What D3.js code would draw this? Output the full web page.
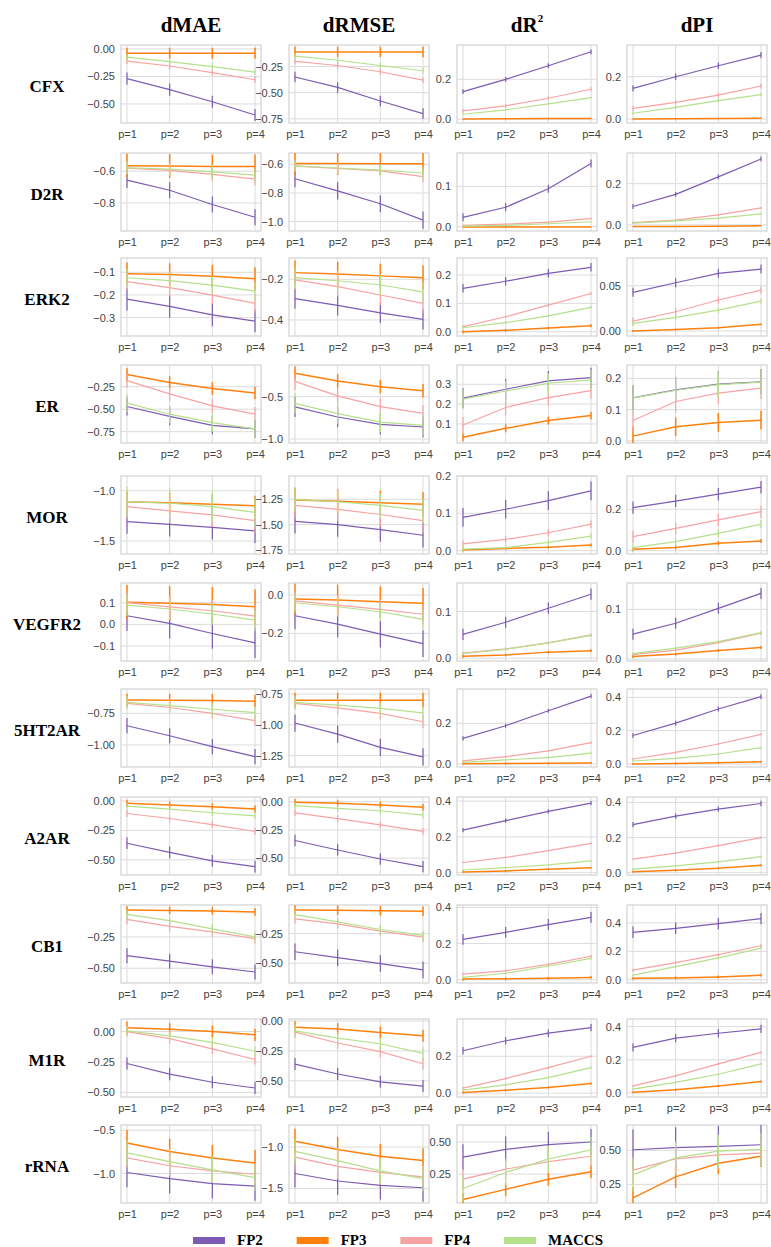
<!DOCTYPE html>
<html>
<head>
<meta charset="utf-8">
<script src="https://cdn.jsdelivr.net/npm/d3@7"></script>
<style>
  body { margin: 0; background: #fff; }
</style>
</head>
<body>
<div id="chart"></div>
<script>
const targets = ["CFX", "D2R", "ERK2", "ER", "MOR", "VEGFR2", "5HT2AR", "A2AR", "CB1", "M1R", "rRNA"];
const metrics = ["dMAE", "dRMSE", "dR2", "dPI"];
const models = ["FP2", "FP3", "FP4", "MACCS"];
const pLabels = ["p=1", "p=2", "p=3", "p=4"];
const colors = ["#7d5bb3", "#ff800e", "#f8a3a3", "#b5e08c"];

// values per target: [FP2, FP3, FP4, MACCS]
const dMAE = [
  [[-0.27, -0.37, -0.48, -0.60], [-0.04, -0.04, -0.04, -0.04], [-0.11, -0.155, -0.215, -0.28], [-0.075, -0.115, -0.16, -0.21]],
  [[-0.656, -0.72, -0.81, -0.89], [-0.565, -0.567, -0.57, -0.57], [-0.58, -0.594, -0.62, -0.65], [-0.578, -0.587, -0.604, -0.625]],
  [[-0.218, -0.25, -0.288, -0.315], [-0.107, -0.11, -0.118, -0.128], [-0.141, -0.168, -0.201, -0.237], [-0.124, -0.137, -0.157, -0.183]],
  [[-0.47, -0.58, -0.68, -0.72], [-0.115, -0.204, -0.27, -0.32], [-0.183, -0.33, -0.463, -0.556], [-0.433, -0.556, -0.65, -0.72]],
  [[-1.308, -1.334, -1.364, -1.40], [-1.109, -1.119, -1.135, -1.149], [-1.159, -1.20, -1.24, -1.298], [-1.109, -1.125, -1.159, -1.215]],
  [[0.04, 0.005, -0.042, -0.085], [0.102, 0.097, 0.092, 0.081], [0.10, 0.081, 0.063, 0.038], [0.089, 0.071, 0.048, 0.02]],
  [[-0.848, -0.927, -1.013, -1.092], [-0.645, -0.646, -0.648, -0.655], [-0.672, -0.704, -0.75, -0.808], [-0.664, -0.69, -0.718, -0.745]],
  [[-0.359, -0.437, -0.509, -0.558], [-0.02, -0.035, -0.049, -0.069], [-0.106, -0.149, -0.201, -0.259], [-0.043, -0.069, -0.10, -0.126]],
  [[-0.40, -0.444, -0.489, -0.53], [-0.035, -0.038, -0.042, -0.05], [-0.11, -0.166, -0.21, -0.263], [-0.07, -0.12, -0.185, -0.25]],
  [[-0.263, -0.35, -0.417, -0.464], [0.032, 0.019, 0.0, -0.027], [0.0, -0.059, -0.143, -0.23], [0.006, -0.035, -0.089, -0.162]],
  [[-0.988, -1.059, -1.117, -1.145], [-0.648, -0.746, -0.82, -0.879], [-0.82, -0.91, -0.969, -1.008], [-0.762, -0.863, -0.957, -1.047]]
];

const dRMSE = [
  [[-0.35, -0.45, -0.58, -0.70], [-0.11, -0.11, -0.11, -0.11], [-0.20, -0.24, -0.30, -0.38], [-0.15, -0.19, -0.24, -0.29]],
  [[-0.70, -0.785, -0.875, -0.99], [-0.593, -0.594, -0.595, -0.595], [-0.612, -0.628, -0.645, -0.685], [-0.61, -0.625, -0.64, -0.66]],
  [[-0.295, -0.328, -0.365, -0.397], [-0.167, -0.174, -0.183, -0.192], [-0.203, -0.236, -0.277, -0.318], [-0.192, -0.207, -0.228, -0.262]],
  [[-0.62, -0.74, -0.826, -0.858], [-0.224, -0.315, -0.382, -0.43], [-0.32, -0.49, -0.618, -0.697], [-0.58, -0.70, -0.80, -0.84]],
  [[-1.467, -1.50, -1.55, -1.605], [-1.257, -1.27, -1.283, -1.30], [-1.31, -1.35, -1.40, -1.46], [-1.25, -1.274, -1.31, -1.36]],
  [[-0.108, -0.152, -0.204, -0.253], [-0.021, -0.026, -0.035, -0.043], [-0.03, -0.052, -0.075, -0.10], [-0.04, -0.061, -0.087, -0.127]],
  [[-0.985, -1.075, -1.183, -1.26], [-0.80, -0.80, -0.80, -0.80], [-0.826, -0.862, -0.907, -0.975], [-0.818, -0.84, -0.867, -0.902]],
  [[-0.344, -0.428, -0.508, -0.575], [-0.005, -0.014, -0.03, -0.05], [-0.099, -0.15, -0.205, -0.263], [-0.035, -0.059, -0.08, -0.119]],
  [[-0.403, -0.453, -0.503, -0.556], [-0.05, -0.053, -0.057, -0.06], [-0.125, -0.167, -0.228, -0.28], [-0.09, -0.15, -0.215, -0.265]],
  [[-0.36, -0.443, -0.508, -0.544], [-0.052, -0.068, -0.096, -0.124], [-0.093, -0.184, -0.256, -0.357], [-0.082, -0.143, -0.19, -0.27]],
  [[-1.32, -1.41, -1.463, -1.492], [-0.93, -1.029, -1.111, -1.164], [-1.123, -1.234, -1.307, -1.36], [-1.053, -1.164, -1.287, -1.381]]
];

const dR2 = [
  [[0.138, 0.20, 0.268, 0.338], [0.001, 0.002, 0.003, 0.004], [0.042, 0.067, 0.105, 0.15], [0.025, 0.047, 0.077, 0.108]],
  [[0.023, 0.048, 0.094, 0.157], [-0.001, -0.001, -0.001, -0.001], [0.003, 0.006, 0.011, 0.02], [0.001, 0.003, 0.007, 0.012]],
  [[0.153, 0.178, 0.206, 0.227], [0.0, 0.005, 0.013, 0.021], [0.018, 0.053, 0.094, 0.135], [0.014, 0.032, 0.056, 0.086]],
  [[0.23, 0.275, 0.317, 0.333], [0.033, 0.078, 0.117, 0.142], [0.095, 0.183, 0.233, 0.268], [0.225, 0.266, 0.305, 0.322]],
  [[0.089, 0.111, 0.134, 0.16], [0.002, 0.006, 0.009, 0.015], [0.018, 0.03, 0.048, 0.071], [0.004, 0.008, 0.022, 0.039]],
  [[0.051, 0.077, 0.107, 0.137], [0.004, 0.007, 0.013, 0.016], [0.011, 0.02, 0.033, 0.05], [0.01, 0.019, 0.033, 0.049]],
  [[0.126, 0.188, 0.262, 0.334], [0.001, 0.002, 0.003, 0.005], [0.015, 0.036, 0.064, 0.105], [0.008, 0.02, 0.031, 0.053]],
  [[0.238, 0.291, 0.343, 0.389], [0.004, 0.01, 0.019, 0.028], [0.057, 0.085, 0.123, 0.164], [0.015, 0.028, 0.044, 0.066]],
  [[0.223, 0.262, 0.305, 0.345], [0.004, 0.005, 0.008, 0.013], [0.031, 0.049, 0.085, 0.13], [0.013, 0.036, 0.076, 0.118]],
  [[0.23, 0.284, 0.325, 0.355], [0.004, 0.016, 0.031, 0.052], [0.027, 0.079, 0.138, 0.20], [0.016, 0.045, 0.084, 0.138]],
  [[0.382, 0.442, 0.479, 0.50], [0.053, 0.132, 0.211, 0.268], [0.211, 0.289, 0.347, 0.389], [0.139, 0.263, 0.368, 0.439]]
];

const dPI = [
  [[0.145, 0.20, 0.252, 0.302], [0.0, 0.001, 0.002, 0.004], [0.05, 0.079, 0.113, 0.156], [0.027, 0.055, 0.087, 0.115]],
  [[0.089, 0.148, 0.233, 0.32], [-0.008, -0.008, -0.007, -0.005], [0.011, 0.023, 0.048, 0.082], [0.008, 0.019, 0.033, 0.053]],
  [[0.0427, 0.0533, 0.0637, 0.0684], [0.0, 0.0017, 0.0035, 0.0074], [0.011, 0.0213, 0.0342, 0.0452], [0.0085, 0.015, 0.023, 0.033]],
  [[0.138, 0.163, 0.182, 0.189], [0.015, 0.045, 0.059, 0.066], [0.065, 0.126, 0.153, 0.169], [0.137, 0.162, 0.18, 0.188]],
  [[0.208, 0.24, 0.273, 0.307], [0.007, 0.016, 0.036, 0.047], [0.068, 0.108, 0.149, 0.189], [0.015, 0.044, 0.084, 0.128]],
  [[0.05, 0.072, 0.102, 0.132], [0.005, 0.01, 0.017, 0.023], [0.009, 0.018, 0.033, 0.052], [0.011, 0.022, 0.035, 0.053]],
  [[0.171, 0.245, 0.33, 0.404], [0.0, 0.003, 0.008, 0.014], [0.03, 0.07, 0.12, 0.178], [0.018, 0.034, 0.06, 0.098]],
  [[0.274, 0.322, 0.362, 0.394], [0.006, 0.014, 0.025, 0.042], [0.077, 0.112, 0.154, 0.20], [0.02, 0.039, 0.062, 0.092]],
  [[0.334, 0.362, 0.395, 0.43], [0.01, 0.013, 0.02, 0.032], [0.067, 0.12, 0.177, 0.239], [0.032, 0.092, 0.154, 0.223]],
  [[0.275, 0.331, 0.36, 0.386], [0.004, 0.02, 0.043, 0.069], [0.043, 0.103, 0.176, 0.245], [0.024, 0.064, 0.113, 0.176]],
  [[0.505, 0.52, 0.53, 0.542], [0.15, 0.305, 0.405, 0.457], [0.355, 0.4375, 0.4675, 0.48], [0.32, 0.445, 0.495, 0.508]]
];

// error bar half-lengths per target: [FP2, FP3, FP4, MACCS]
const dMAE_err = [[0.055, 0.05, 0.03, 0.03], [0.05, 0.075, 0.04, 0.04], [0.05, 0.05, 0.04, 0.04], [0.1, 0.07, 0.08, 0.1], [0.12, 0.1, 0.12, 0.15], [0.07, 0.08, 0.05, 0.05], [0.06, 0.05, 0.04, 0.05], [0.05, 0.03, 0.03, 0.03], [0.06, 0.03, 0.04, 0.04], [0.05, 0.05, 0.04, 0.04], [0.17, 0.15, 0.12, 0.15]];
const dRMSE_err = [[0.05, 0.05, 0.03, 0.03], [0.06, 0.08, 0.04, 0.04], [0.05, 0.06, 0.05, 0.05], [0.12, 0.08, 0.1, 0.12], [0.12, 0.12, 0.12, 0.12], [0.07, 0.08, 0.05, 0.05], [0.07, 0.06, 0.05, 0.05], [0.05, 0.03, 0.03, 0.03], [0.07, 0.04, 0.04, 0.04], [0.05, 0.05, 0.05, 0.05], [0.17, 0.15, 0.15, 0.15]];
const dR2_err = [[0.012, 0.003, 0.01, 0.005], [0.01, 0.001, 0.002, 0.001], [0.015, 0.005, 0.005, 0.005], [0.05, 0.02, 0.04, 0.05], [0.025, 0.004, 0.01, 0.008], [0.012, 0.003, 0.003, 0.003], [0.01, 0.005, 0.005, 0.005], [0.012, 0.005, 0.005, 0.005], [0.03, 0.008, 0.008, 0.008], [0.02, 0.006, 0.006, 0.006], [0.1, 0.05, 0.08, 0.1]];
const dPI_err = [[0.015, 0.003, 0.012, 0.008], [0.012, 0.002, 0.005, 0.004], [0.005, 0.001, 0.004, 0.003], [0.04, 0.03, 0.035, 0.04], [0.03, 0.01, 0.03, 0.02], [0.011, 0.003, 0.003, 0.003], [0.015, 0.006, 0.006, 0.006], [0.015, 0.006, 0.006, 0.006], [0.04, 0.01, 0.01, 0.01], [0.025, 0.007, 0.007, 0.007], [0.15, 0.08, 0.1, 0.12]];

// y limits
const dMAE_lim = [[-0.673, 0.036], [-0.977, -0.485], [-0.381, -0.037], [-0.876, -0.009], [-1.629, -0.854], [-0.169, 0.191], [-1.174, -0.558], [-0.629, 0.034], [-0.618, 0.005], [-0.538, 0.103], [-1.34, -0.44]];
const dRMSE_lim = [[-0.79, -0.044], [-1.066, -0.52], [-0.479, -0.095], [-1.047, -0.126], [-1.79, -1.02], [-0.344, 0.063], [-1.342, -0.709], [-0.65, 0.042], [-0.667, -0.008], [-0.635, 0.0165], [-1.676, -0.734]];
const dR2_lim = [[-0.019, 0.372], [-0.011, 0.183], [-0.015, 0.26], [0.004, 0.397], [-0.009, 0.2], [-0.006, 0.161], [-0.015, 0.369], [-0.013, 0.423], [-0.018, 0.413], [-0.021, 0.402], [0.026, 0.632]];
const dPI_lim = [[-0.019, 0.35], [-0.03, 0.349], [-0.0055, 0.0806], [-0.007, 0.243], [-0.016, 0.361], [-0.004, 0.153], [-0.018, 0.45], [-0.013, 0.431], [-0.023, 0.526], [-0.024, 0.446], [0.1125, 0.6875]];

// tick labels
const dMAE_ticks = [["0.00", "-0.25", "-0.50"], ["-0.6", "-0.8"], ["-0.1", "-0.2", "-0.3"], ["-0.25", "-0.50", "-0.75"], ["-1.0", "-1.5"], ["0.1", "0.0", "-0.1"], ["-0.75", "-1.00"], ["0.00", "-0.25", "-0.50"], ["-0.25", "-0.50"], ["0.00", "-0.25", "-0.50"], ["-0.5", "-1.0"]];
const dRMSE_ticks = [["-0.25", "-0.50", "-0.75"], ["-0.6", "-0.8", "-1.0"], ["-0.2", "-0.4"], ["-0.5", "-1.0"], ["-1.25", "-1.50", "-1.75"], ["0.0", "-0.2"], ["-0.75", "-1.00", "-1.25"], ["0.00", "-0.25", "-0.50"], ["-0.25", "-0.50"], ["0.00", "-0.25", "-0.50"], ["-1.0", "-1.5"]];
const dR2_ticks = [["0.0", "0.2"], ["0.0", "0.1"], ["0.0", "0.1", "0.2"], ["0.1", "0.2", "0.3"], ["0.0", "0.1", "0.2"], ["0.0", "0.1"], ["0.0", "0.2"], ["0.0", "0.2", "0.4"], ["0.0", "0.2", "0.4"], ["0.0", "0.2"], ["0.25", "0.50"]];
const dPI_ticks = [["0.0", "0.2"], ["0.0", "0.2"], ["0.00", "0.05"], ["0.0", "0.1", "0.2"], ["0.0", "0.2"], ["0.0", "0.1"], ["0.0", "0.2", "0.4"], ["0.0", "0.2", "0.4"], ["0.0", "0.2", "0.4"], ["0.0", "0.2", "0.4"], ["0.25", "0.50"]];

const values = [dMAE, dRMSE, dR2, dPI];
const errors = [dMAE_err, dRMSE_err, dR2_err, dPI_err];
const limits = [dMAE_lim, dRMSE_lim, dR2_lim, dPI_lim];
const ticks = [dMAE_ticks, dRMSE_ticks, dR2_ticks, dPI_ticks];

const width = 771;
const height = 1247;
const colLeft = [121, 289, 457, 627];
const rowTop = [45, 153, 258, 365, 476, 583, 689, 797, 905, 1019, 1125];
const panelW = 140;
const panelH = 78;
const gridColor = "#dcdcdc";
const sans = "'Liberation Sans', Arial, sans-serif";
const serif = "'Liberation Serif', 'Times New Roman', serif";

const svg = d3.select("#chart")
  .append("svg")
  .attr("width", width)
  .attr("height", height)
  .attr("viewBox", [0, 0, width, height]);

svg.append("rect").attr("width", width).attr("height", height).attr("fill", "#fff");

// column titles
metrics.forEach((m, j) => {
  const cx = colLeft[j] + panelW / 2;
  const title = svg.append("text")
    .attr("x", cx).attr("y", 32)
    .attr("text-anchor", "middle")
    .attr("font-family", serif).attr("font-weight", "bold").attr("font-size", 21);
  if (m === "dR2") {
    title.append("tspan").text("dR");
    title.append("tspan")
      .attr("dx", 0).attr("dy", -10)
      .attr("font-size", 11)
      .text("2");
  } else {
    title.text(m);
  }
});

const minus = s => s.replace("-", "\u2212");

targets.forEach((t, i) => {
  const top = rowTop[i];

  // row label
  svg.append("text")
    .attr("x", 47).attr("y", top + 47)
    .attr("text-anchor", "middle")
    .attr("font-family", serif).attr("font-weight", "bold").attr("font-size", 17)
    .text(t);

  metrics.forEach((m, j) => {
    const left = colLeft[j];
    const x = d3.scalePoint()
      .domain(pLabels)
      .range([left, left + panelW])
      .padding(0.14);
    const y = d3.scaleLinear()
      .domain(limits[j][i])
      .range([top + panelH, top]);
    const tickLabels = ticks[j][i];

    const g = svg.append("g");
    const clipId = `clip-${i}-${j}`;
    g.append("clipPath").attr("id", clipId)
      .append("rect")
      .attr("x", left).attr("y", top).attr("width", panelW).attr("height", panelH);

    // grid
    g.append("g")
      .selectAll("line.h")
      .data(tickLabels)
      .join("line")
      .attr("x1", left).attr("x2", left + panelW)
      .attr("y1", d => y(+d)).attr("y2", d => y(+d))
      .attr("stroke", gridColor).attr("stroke-width", 1);
    g.append("g")
      .selectAll("line.v")
      .data(pLabels)
      .join("line")
      .attr("x1", d => x(d)).attr("x2", d => x(d))
      .attr("y1", top).attr("y2", top + panelH)
      .attr("stroke", gridColor).attr("stroke-width", 1);

    g.append("rect")
      .attr("x", left).attr("y", top)
      .attr("width", panelW).attr("height", panelH)
      .attr("fill", "none")
      .attr("stroke", "#d2d2d2").attr("stroke-width", 1.2);

    // y axis labels
    g.append("g")
      .attr("transform", `translate(${left},0)`)
      .call(d3.axisLeft(y)
        .tickValues(tickLabels.map(Number))
        .tickSize(0)
        .tickPadding(6)
        .tickFormat((d, k) => minus(tickLabels[k])))
      .call(a => a.select(".domain").remove())
      .call(a => a.selectAll("text")
        .attr("font-family", sans).attr("font-size", 11).attr("fill", "#444"));

    // x axis labels
    g.append("g")
      .attr("transform", `translate(0,${top + panelH})`)
      .call(d3.axisBottom(x).tickSize(0).tickPadding(7))
      .call(a => a.select(".domain").remove())
      .call(a => a.selectAll("text")
        .attr("font-family", sans).attr("font-size", 11).attr("fill", "#444"));

    // series
    const plot = g.append("g").attr("clip-path", `url(#${clipId})`);
    const line = d3.line()
      .x((d, k) => x(pLabels[k]))
      .y(d => y(d));

    models.forEach((mod, s) => {
      const vals = values[j][i][s];
      const err = errors[j][i][s];
      const sw = s === 1 ? 1.5 : 1.2;
      plot.append("g")
        .selectAll("line")
        .data(vals)
        .join("line")
        .attr("x1", (d, k) => x(pLabels[k]))
        .attr("x2", (d, k) => x(pLabels[k]))
        .attr("y1", d => y(d - err))
        .attr("y2", d => y(d + err))
        .attr("stroke", colors[s])
        .attr("stroke-width", sw);
      plot.append("path")
        .datum(vals)
        .attr("d", line)
        .attr("fill", "none")
        .attr("stroke", colors[s])
        .attr("stroke-width", sw);
    });
  });
});

// legend
const legend = svg.append("g").attr("transform", "translate(0,1237)");
const lx = d3.scalePoint().domain(models).range([193, 504]);
models.forEach((mod, s) => {
  legend.append("rect")
    .attr("x", lx(mod)).attr("y", 0)
    .attr("width", 32).attr("height", 7)
    .attr("fill", colors[s]);
  legend.append("text")
    .attr("x", lx(mod) + 44).attr("y", 8)
    .attr("font-family", serif).attr("font-weight", "bold").attr("font-size", 15)
    .text(mod);
});
</script>
</body>
</html>
